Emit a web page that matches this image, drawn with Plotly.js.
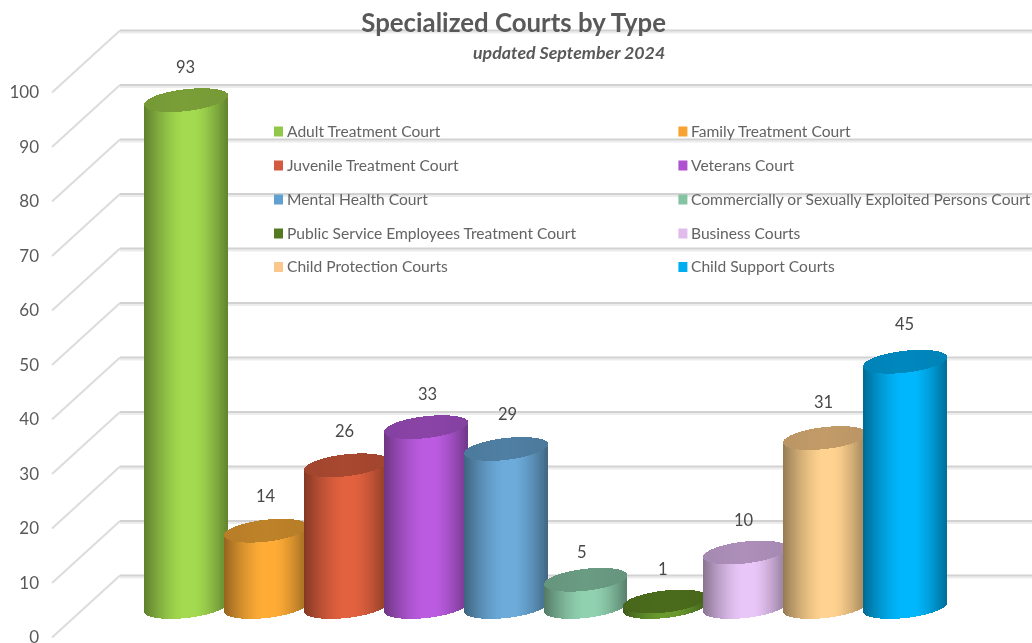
<!DOCTYPE html>
<html>
<head>
<meta charset="utf-8">
<script src="https://cdn.plot.ly/plotly-3.0.1.min.js"></script>
<style>html,body{margin:0;padding:0;background:#fff;overflow:hidden}#chart{width:1032px;height:643px;filter:blur(0.45px)}</style>
</head>
<body>
<div id="chart"></div>
<script>
// ---- data ----
const categories = ["Adult Treatment Court","Family Treatment Court","Juvenile Treatment Court","Veterans Court","Mental Health Court","Commercially or Sexually Exploited Persons Court","Public Service Employees Treatment Court","Business Courts","Child Protection Courts","Child Support Courts"];
const values = [93,14,26,33,29,5,1,10,31,45];
const bodyColors = ["#A3DA4F","#FFAC36","#E2613F","#BB5BE1","#6CABDA","#90D1B0","#6A9A2E","#E9C6F8","#FFD28F","#00B7FD"];
const capColors = ["#7A9F38","#BE8229","#A84830","#8A44A7","#4F7FA3","#6A9B83","#4B6B1C","#AD8FB9","#C29B68","#0088BE"];
const swatchColors = ["#92C84A","#F8A233","#D25A3E","#AE52CF","#5FA0D0","#84C4A3","#55791F","#DFBCEC","#FBC88C","#00ADEF"];
const gridValues = [0,10,20,30,40,50,60,70,80,90,100];
const labelNudgeX = [-1,0,-2,2,2,-4,-3,-2,-2,-1];
const labelNudgeY = [33,35,34,33,35,28,33,33,36,38];

// ---- geometry (pixels in the 1032x643 frame) ----
const W = 1032, H = 643, ML = 44;
const pxPerUnit = 5.45, zeroPx = 637.5;
const pitch = 79.9, firstCx = 186.2, radius = 41.7;
const yFromPx = p => (zeroPx - p) / pxPerUnit;
const xFromPx = p => (p - firstCx) / pitch;
const floorLift = (zeroPx - 607) / pxPerUnit;
const capHalf = 11 / pxPerUnit, capShear = 4.5 / pxPerUnit;
const depthY = 62 / pxPerUnit;

function rgb(hex){return [1,3,5].map(i=>parseInt(hex.substr(i,2),16));}
function shade(hex,f){return 'rgb('+rgb(hex).map(c=>Math.round(c*f)).join(',')+')';}
function bodyShade(u){
  if(u<-0.05){const t=(u+0.05)/0.95;return 1-0.42*Math.pow(-t,1.5);}
  if(u>0.2){const t=(u-0.2)/0.8;return 1-0.4*Math.pow(t,1.5);}
  return 1;
}
function capShade(u){return 0.96+0.04*(1-Math.abs(u));}

// strips: right rim strips go first so each cylinder covers its left neighbour
const offsets=[];
for(let o=-radius+0.5;o<radius;o+=1)offsets.push(o);
const rimStart=pitch-radius-1;
const order=offsets.filter(o=>o>=rimStart).concat(offsets.filter(o=>o<rimStart));

const traces=order.map(o=>{
  const u=o/radius, arc=capHalf*Math.sqrt(Math.max(0,1-u*u)), tilt=capShear*u;
  const x=[],y=[],base=[],color=[],text=[];
  categories.forEach((c,i)=>{
    x.push(i+o/pitch);y.push(values[i]);base.push(floorLift+tilt-arc);
    color.push(shade(bodyColors[i],bodyShade(u)));text.push(c+': '+values[i]);
  });
  categories.forEach((c,i)=>{
    x.push(i+o/pitch);y.push(2*arc);base.push(floorLift+values[i]+tilt-arc);
    color.push(shade(capColors[i],capShade(u)));text.push(c+': '+values[i]);
  });
  return {type:'bar',x,y,base,width:1/pitch,hoverinfo:'text',hovertext:text,showlegend:false,
          marker:{color,line:{width:0}}};
});

// ---- chart walls ----
const shapes=[];
gridValues.forEach(v=>{
  const common={xref:'x',yref:'y',layer:'below'};
  shapes.push({...common,type:'line',x0:xFromPx(120),x1:xFromPx(W),y0:v+depthY-0.35,y1:v+depthY-0.35,line:{color:'#ececec',width:2}});
  shapes.push({...common,type:'line',x0:xFromPx(120),x1:xFromPx(W),y0:v+depthY,y1:v+depthY,line:{color:'#d2d2d2',width:2}});
  shapes.push({...common,type:'line',x0:xFromPx(52),x1:xFromPx(120),y0:v,y1:v+depthY,line:{color:'#dcdcdc',width:2}});
});

// ---- legend ----
const annotations=[];
const legendColX=[274,678.4], legendRowY=[131.5,165.5,199.5,233.5,267];
categories.forEach((c,i)=>{
  const cx=legendColX[i%2], cy=legendRowY[Math.floor(i/2)];
  shapes.push({type:'rect',xref:'x',yref:'y',x0:xFromPx(cx),x1:xFromPx(cx+9),y0:yFromPx(cy+5),y1:yFromPx(cy-5),
    fillcolor:swatchColors[i],line:{width:0},layer:'above'});
  annotations.push({xref:'x',yref:'y',x:xFromPx(cx+10.5),y:yFromPx(cy-1),text:c,showarrow:false,xanchor:'left',yanchor:'middle',
    font:{family:'Lato, sans-serif',size:15.6,color:'#636363'}});
});

// ---- value labels ----
values.forEach((v,i)=>{
  annotations.push({xref:'x',yref:'y',x:i,y:floorLift+v,text:String(v),showarrow:false,xanchor:'center',yanchor:'middle',
    xshift:labelNudgeX[i],yshift:labelNudgeY[i],font:{family:'Lato, sans-serif',size:16.5,color:'#484848'}});
});

// ---- subtitle ----
annotations.push({xref:'x',yref:'y',x:xFromPx(667),y:yFromPx(52),text:'<b><i>updated September 2024</i></b>',showarrow:false,
  xanchor:'right',yanchor:'middle',font:{family:'Lato, sans-serif',size:17.8,color:'#595959'}});

const layout={
  width:W,height:H,margin:{l:ML,r:0,t:0,b:0},paper_bgcolor:'#fff',plot_bgcolor:'rgba(0,0,0,0)',
  barmode:'overlay',bargap:0,showlegend:false,
  title:{text:'<b>Specialized Courts by Type</b>',x:666/W,xref:'container',xanchor:'right',y:1-23/H,yanchor:'middle',yref:'container',
    font:{family:'Lato, sans-serif',size:25.8,color:'#595959'}},
  xaxis:{range:[xFromPx(ML),xFromPx(W)],visible:false,fixedrange:true},
  yaxis:{range:[yFromPx(H),yFromPx(0)],tickmode:'array',tickvals:gridValues,ticktext:gridValues.map(String),
    showgrid:false,zeroline:false,showline:false,ticks:'',ticklabelstandoff:4,ticklabeloverflow:'allow',fixedrange:true,automargin:false,
    tickfont:{family:'Lato, sans-serif',size:17,color:'#595959'}},
  shapes,annotations
};
Plotly.newPlot('chart',traces,layout,{displayModeBar:false,responsive:false});
</script>
</body>
</html>
